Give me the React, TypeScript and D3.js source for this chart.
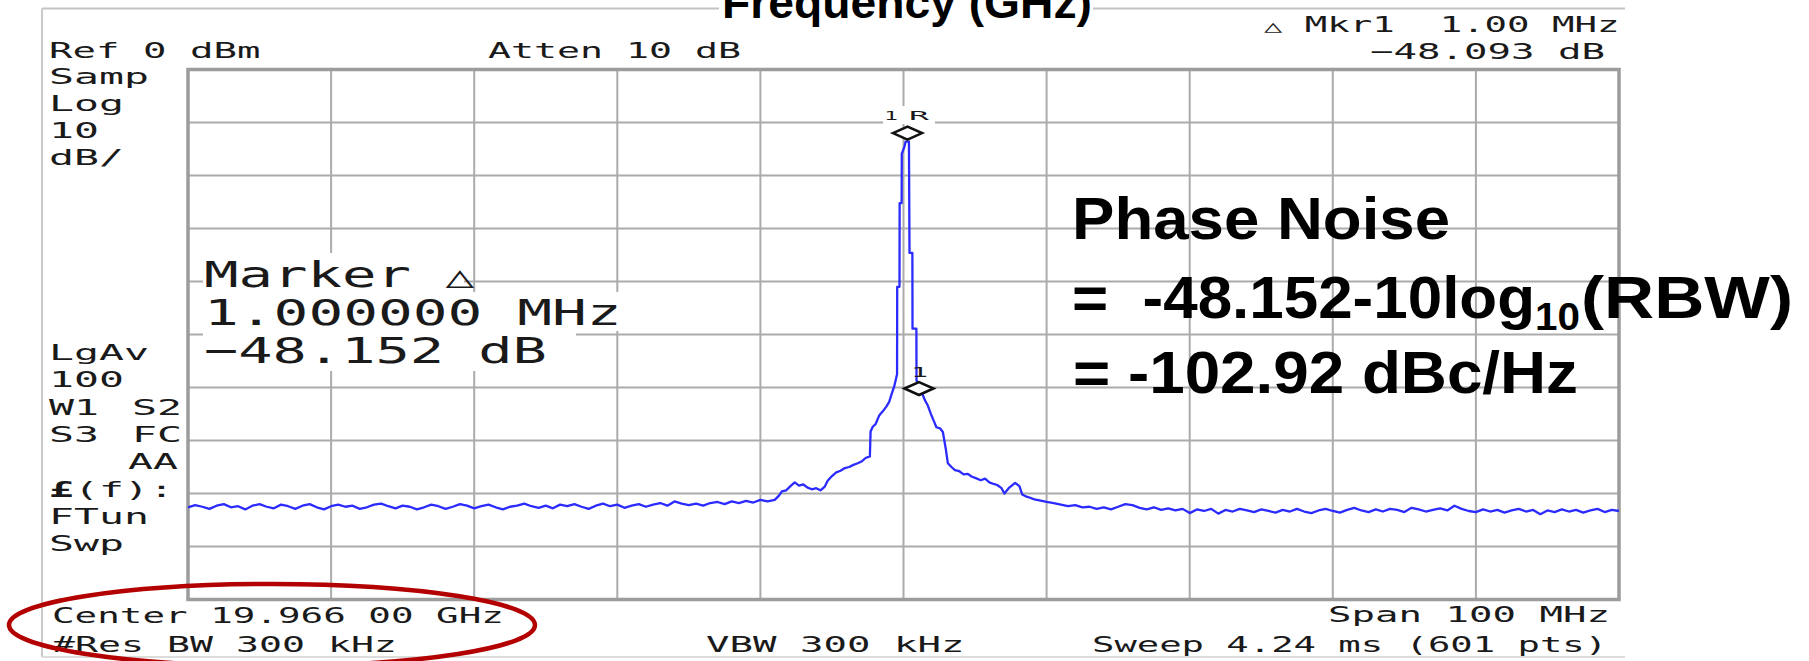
import React from "react";
import * as d3 from "d3";

// ---------------- instrument settings ----------------
const centerGHz = 19.966;
const spanMHz = 100;
const refLevelDbm = 0;
const dbPerDiv = 10;
const divisions = 10;

// ---------------- trace data (dBm) ----------------
const floorStepMHz = 0.5;
const leftFloorStartMHz = -50;
const leftFloorDbm = [
  -82.6, -82.2, -82.5, -82.9, -82.3, -82.0, -82.6, -82.4, -83.0, -82.3,
  -82.0, -82.5, -82.8, -82.1, -82.4, -82.9, -82.3, -82.0, -82.6, -83.0,
  -82.4, -82.1, -82.5, -82.3, -82.9, -82.6, -82.1, -81.9, -82.4, -82.8,
  -82.3, -82.5, -83.0, -82.6, -82.1, -82.4, -82.9, -82.5, -82.0, -82.3,
  -82.8, -82.4, -82.1, -82.6, -83.0, -82.5, -82.3, -81.9, -82.4, -82.7,
  -82.3, -82.8, -82.1, -82.4, -82.0, -82.5, -82.9, -82.3, -81.9, -82.4,
  -82.1, -82.7, -82.3, -82.0, -82.5, -82.1, -81.8, -82.3, -81.5, -81.9,
  -82.2, -81.9, -82.3, -81.8, -81.6, -82.0, -81.5, -81.8, -81.4, -81.7,
  -81.2, -81.5,
];

const skirtOffsetsMHz = [
  -9.0, -8.7, -8.5, -8.2, -7.9, -7.6, -7.3, -7.0, -6.7, -6.4, -6.1, -5.8, -5.5,
  -5.3, -5.0, -4.7, -4.4, -4.1, -3.8, -3.5, -3.2, -2.9, -2.65, -2.35, -2.3,
  -2.15, -1.95, -1.7, -1.45, -1.2, -1.0, -0.85, -0.65, -0.45, -0.44, -0.28,
  -0.27, -0.13, -0.12, 0.05, 0.15, 0.38, 0.42, 0.62, 0.63, 0.9, 0.91, 1.1, 1.3,
  1.5, 1.7, 1.9, 2.1, 2.3, 2.55, 2.75, 2.95, 3.1, 3.35, 3.6, 3.9, 4.2, 4.5,
  4.75, 5.05, 5.4, 5.7, 6.0, 6.3, 6.55, 6.85, 7.05, 7.35, 7.8, 8.1, 8.3, 8.6,
  8.85, 9.15,
];
const skirtDbm = [
  -81.2, -80.4, -79.6, -79.4, -78.6, -77.9, -78.5, -78.3, -78.9, -79.2, -79.0,
  -79.4, -78.7, -77.6, -76.7, -76.0, -75.7, -75.2, -75.0, -74.6, -74.3, -73.9,
  -73.3, -73.0, -68.3, -67.4, -66.9, -65.3, -64.5, -63.6, -62.7, -61.4, -59.8,
  -57.5, -41.0, -41.0, -25.2, -25.2, -15.9, -14.7, -13.6, -13.6, -34.6, -34.6,
  -48.9, -48.9, -58.6, -60.5, -61.1, -62.4, -63.4, -64.9, -66.2, -67.5, -67.7,
  -68.4, -71.5, -74.3, -75.0, -75.6, -75.8, -76.4, -76.3, -76.8, -77.1, -77.5,
  -77.2, -77.9, -78.2, -78.4, -79.0, -80.0, -79.0, -78.0, -78.6, -80.2, -80.6,
  -80.8, -81.1,
];

const rightFloorStartMHz = 9.5;
const rightFloorDbm = [
  -81.3, -81.6, -81.8, -82.1, -82.4, -82.2, -82.6, -82.5, -82.9, -82.6,
  -83.0, -82.5, -82.0, -82.2, -82.7, -83.0, -82.6, -83.1, -82.8, -83.2,
  -82.9, -83.7, -83.0, -83.3, -82.9, -83.8, -83.1, -83.4, -82.9, -83.2,
  -83.5, -83.0, -83.3, -83.6, -83.1, -83.4, -82.9, -83.4, -83.7, -83.2,
  -82.9, -83.3, -83.6, -83.1, -82.7, -83.2, -83.5, -83.0, -83.4, -82.9,
  -83.1, -83.5, -82.7, -83.0, -83.4, -83.1, -82.8, -83.2, -82.3, -82.9,
  -83.3, -83.5, -83.0, -83.4, -83.1, -83.6, -83.2, -82.9, -83.4, -83.1,
  -83.9, -83.2, -83.5, -83.0, -83.4, -83.1, -83.6, -83.2, -82.9, -83.5,
  -83.1, -83.3,
];

// markers: offset from center (MHz) and level (dBm)
const markerNames = ["1R", "1"];
const markerOffsetsMHz = [0.28, 1.08];
const markerDbm = [-12.0, -60.2];

// ---------------- annotation texts ----------------
const headerTexts = ["Ref 0 dBm", "Atten 10 dB", "\u25B3", " Mkr1  1.00 MHz", "\u221248.093 dB"];
const sideTopTexts = ["Samp", "Log", "10", "dB/"];
const sideBottomTexts = ["LgAv", "100", "W1", "S3", "£", "(f):", "FTun", "Swp"];
const sideRightTexts = ["S2", "FC", "AA"];
const footerTexts = ["Center 19.966 00 GHz", "#Res BW 300 kHz", "Span 100 MHz", "VBW 300 kHz", "Sweep 4.24 ms (601 pts)"];
const markerReadout = ["Marker ", "\u25B3", "1.000000 MHz", "\u221248.152 dB"];
const phaseNoiseLines = ["Phase Noise", "=  -48.152-10log", "10", "(RBW)", "= -102.92 dBc/Hz"];
const titleText = "Frequency (GHz)";

const MONO = "'DejaVu Sans Mono', monospace";
const SANS = "'Liberation Sans', Arial, Helvetica, sans-serif";
const MONO_ADV = 0.602; // advance width of DejaVu Sans Mono, em

function Mono({ x, y, pitch, size = 21, text, weight, fill = "#1a1a1a", children }: any) {
  const sx = pitch / (MONO_ADV * size);
  return (
    <text
      transform={`translate(${x},${y}) scale(${sx},1)`}
      fontFamily={MONO}
      fontSize={size}
      fontWeight={weight}
      fill={fill}
      style={{ whiteSpace: "pre" }}
    >
      {children || text}
    </text>
  );
}

function Bold({ x, y, size, len, text }: any) {
  return (
    <text
      x={x}
      y={y}
      fontFamily={SANS}
      fontWeight="bold"
      fontSize={size}
      textLength={len}
      lengthAdjust="spacingAndGlyphs"
      fill="#000"
      style={{ whiteSpace: "pre" }}
    >
      {text}
    </text>
  );
}

export default function App() {
  const W = 1809;
  const H = 661;

  const x = d3.scaleLinear().domain([-spanMHz / 2, spanMHz / 2]).range([188, 1619]);
  const y = d3
    .scaleLinear()
    .domain([refLevelDbm - dbPerDiv * divisions, refLevelDbm])
    .range([599.5, 69.5]);

  const xGrid = d3.range(divisions + 1).map((i) => -spanMHz / 2 + (i * spanMHz) / divisions);
  const yGrid = d3.range(divisions + 1).map((i) => refLevelDbm - i * dbPerDiv);

  const points: [number, number][] = [
    ...leftFloorDbm.map((v, i) => [leftFloorStartMHz + i * floorStepMHz, v] as [number, number]),
    ...skirtOffsetsMHz.map((o, i) => [o, skirtDbm[i]] as [number, number]),
    ...rightFloorDbm.map((v, i) => [rightFloorStartMHz + i * floorStepMHz, v] as [number, number]),
  ];
  const line = d3
    .line<[number, number]>()
    .x((d) => x(d[0]))
    .y((d) => y(d[1]));
  const tracePath = line(points) || "";

  const markers = markerNames.map((n, i) => ({
    name: n,
    cx: x(markerOffsetsMHz[i]),
    cy: y(markerDbm[i]),
  }));
  const diamond = (cx: number, cy: number) =>
    `M${cx - 14.5},${cy}L${cx},${cy - 6.5}L${cx + 14.5},${cy}L${cx},${cy + 6.5}Z`;

  const x0 = x(-spanMHz / 2);
  const x1 = x(spanMHz / 2);
  const y0 = y(refLevelDbm);
  const y1 = y(refLevelDbm - dbPerDiv * divisions);

  return (
    <svg
      width={W}
      height={H}
      viewBox={`0 0 ${W} ${H}`}
      style={{ position: "absolute", left: 0, top: 0, background: "#fff" }}
    >
      <rect x={0} y={0} width={W} height={H} fill="#fff" />
      {/* outer frame */}
      <g stroke="#c4c4c4" strokeWidth={1.8} fill="none">
        <line x1={42} y1={8.5} x2={1625} y2={8.5} />
        <line x1={42} y1={8.5} x2={42} y2={657} />
        <line x1={42} y1={657} x2={1625} y2={657} stroke="#dcdcdc" />
      </g>

      {/* grid */}
      <g stroke="#ababab" strokeWidth={2}>
        {xGrid.slice(1, -1).map((f) => (
          <line key={"vx" + f} x1={x(f)} x2={x(f)} y1={y0} y2={y1} />
        ))}
        {yGrid.slice(1, -1).map((v) => (
          <line key={"hy" + v} x1={x0} x2={x1} y1={y(v)} y2={y(v)} />
        ))}
      </g>
      <rect x={x0} y={y0} width={x1 - x0} height={y1 - y0} fill="none" stroke="#9c9c9c" strokeWidth={3.5} />

      {/* header */}
      <Mono x={49} y={58} pitch={23.5} text={headerTexts[0]} />
      <Mono x={488} y={58} pitch={23} text={headerTexts[1]} />
      <Mono x={1264} y={32} pitch={22.5}>
        <tspan fontWeight="bold" fontSize={17}>{headerTexts[2]}</tspan>
        {headerTexts[3]}
      </Mono>
      <Mono x={1370} y={59} pitch={23.5} text={headerTexts[4]} />

      {/* left side labels */}
      {sideTopTexts.map((t, i) => (
        <Mono key={t} x={49} y={84 + i * 27} pitch={25} text={t} />
      ))}
      <Mono x={49} y={360} pitch={25} text={sideBottomTexts[0]} />
      <Mono x={49} y={387} pitch={25} text={sideBottomTexts[1]} />
      <Mono x={49} y={415} pitch={25} text={sideBottomTexts[2]} />
      <Mono x={132} y={415} pitch={25} text={sideRightTexts[0]} />
      <Mono x={49} y={442} pitch={25} text={sideBottomTexts[3]} />
      <Mono x={132} y={442} pitch={25} text={sideRightTexts[1]} />
      <Mono x={128} y={469} pitch={25} text={sideRightTexts[2]} />
      <Mono x={49} y={497} pitch={25}>
        <tspan fontWeight="bold">{sideBottomTexts[4]}</tspan>
        {sideBottomTexts[5]}
      </Mono>
      <Mono x={49} y={524} pitch={25} text={sideBottomTexts[6]} />
      <Mono x={49} y={551} pitch={25} text={sideBottomTexts[7]} />

      {/* footer */}
      <Mono x={52} y={623} pitch={22.6} text={footerTexts[0]} />
      <Mono x={52} y={652} pitch={23} text={footerTexts[1]} />
      <Mono x={1328} y={622} pitch={23.5} text={footerTexts[2]} />
      <Mono x={706} y={652} pitch={23.5} text={footerTexts[3]} />
      <Mono x={1092} y={652} pitch={22.4} text={footerTexts[4]} />

      {/* marker readout box */}
      <g fill="#fff">
        <rect x={203} y={253} width={261} height={39} />
        <rect x={203} y={292} width={417} height={39} />
        <rect x={203} y={331} width={373} height={40} />
      </g>
      <Mono x={204} y={287} pitch={34.5} size={36}>
        {markerReadout[0]}
        <tspan fontSize={30}>{markerReadout[1]}</tspan>
      </Mono>
      <Mono x={204} y={325} pitch={34.8} size={36} text={markerReadout[2]} />
      <Mono x={204} y={363} pitch={34.3} size={36} text={markerReadout[3]} />

      {/* trace */}
      <path d={tracePath} fill="none" stroke="#2b2bff" strokeWidth={2.3} strokeLinejoin="round" />

      {/* markers */}
      <rect x={883} y={106} width={52} height={18} fill="#fff" />
      <Mono x={884} y={120} pitch={14} size={12.5} text={markers[0].name.charAt(0)} />
      <Mono x={909} y={120} pitch={20} size={12.5} text={markers[0].name.charAt(1)} />
      <Mono x={911} y={377} pitch={17} size={13.5} text={markers[1].name} />
      {markers.map((m) => (
        <path key={m.name} d={diamond(m.cx, m.cy)} fill="#fff" stroke="#111" strokeWidth={2.6} />
      ))}

      {/* phase noise annotation */}
      <Bold x={1072} y={239} size={59} len={378} text={phaseNoiseLines[0]} />
      <Bold x={1072} y={318} size={59} len={463} text={phaseNoiseLines[1]} />
      <Bold x={1535} y={330} size={38} len={45} text={phaseNoiseLines[2]} />
      <Bold x={1581} y={318} size={59} len={212} text={phaseNoiseLines[3]} />
      <Bold x={1073} y={393} size={59} len={505} text={phaseNoiseLines[4]} />

      {/* title (cut at top) */}
      <rect x={719} y={0} width={374} height={28} fill="#fff" />
      <Bold x={722} y={18} size={45} len={370} text={titleText} />

      {/* highlight ellipse */}
      <ellipse cx={272} cy={625} rx={263} ry={41} fill="none" stroke="#b30000" strokeWidth={4.5} />
    </svg>
  );
}
